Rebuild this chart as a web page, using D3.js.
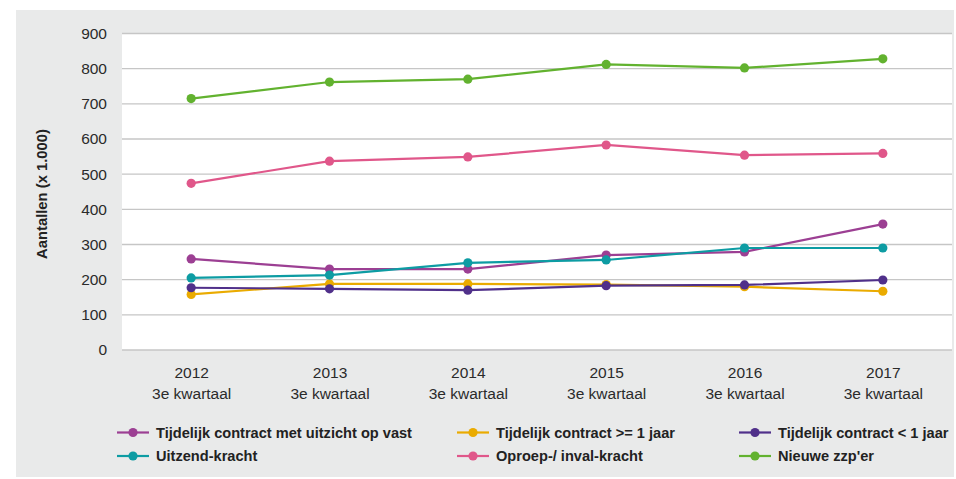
<!DOCTYPE html>
<html>
<head>
<meta charset="utf-8">
<script src="https://cdn.jsdelivr.net/npm/d3@7"></script>
<style>
  body { margin: 0; background: #fff; }
  svg { display: block; font-family: Arial, 'Liberation Sans', sans-serif; }
</style>
</head>
<body>
<svg id="chart" width="956" height="479"></svg>
<script>
// Data
const years = ['2012', '2013', '2014', '2015', '2016', '2017']
const quarterLabel = '3e kwartaal'
const yTicks = [0, 100, 200, 300, 400, 500, 600, 700, 800, 900]

const seriesNames = [
  'Tijdelijk contract met uitzicht op vast',
  'Tijdelijk contract >= 1 jaar',
  'Tijdelijk contract < 1 jaar',
  'Uitzend-kracht',
  'Oproep-/ inval-kracht',
  "Nieuwe zzp'er"
]
const metUitzicht = [259, 230, 230, 270, 279, 358]
const langerJaar = [158, 188, 188, 186, 180, 167]
const korterJaar = [177, 174, 170, 183, 185, 199]
const uitzend = [205, 213, 248, 256, 290, 290]
const oproep = [474, 537, 549, 583, 554, 559]
const zzp = [715, 762, 770, 812, 802, 828]
const seriesValues = [metUitzicht, langerJaar, korterJaar, uitzend, oproep, zzp]
const colours = ['#9c3f93', '#eaab00', '#50308a', '#0d9ca3', '#e0578a', '#62b22f']

// Layout
const svg = d3.select('#chart')
const plot = { left: 122, right: 952, top: 33.5, bottom: 350 }

svg.append('rect') // grey panel
  .attr('x', 16).attr('y', 10)
  .attr('width', 938).attr('height', 467)
  .attr('fill', '#e9eaea')

svg.append('rect') // white plot area
  .attr('x', plot.left).attr('y', plot.top)
  .attr('width', plot.right - plot.left).attr('height', plot.bottom - plot.top)
  .attr('fill', '#fff')

const x = d3.scalePoint()
  .domain(years)
  .range([plot.left, plot.right])
  .padding(0.5)

const y = d3.scaleLinear()
  .domain([0, 900])
  .range([plot.bottom, plot.top])

// Gridlines
svg.append('g')
  .selectAll('line')
  .data(yTicks)
  .join('line')
  .attr('x1', plot.left).attr('x2', plot.right)
  .attr('y1', d => y(d)).attr('y2', d => y(d))
  .attr('stroke', '#c6c6c6')
  .attr('stroke-width', 1.3)

// Y axis labels
const yAxis = svg.append('g')
  .attr('transform', `translate(${plot.left}, 0)`)
  .call(d3.axisLeft(y).tickValues(yTicks).tickSize(0).tickPadding(15))
yAxis.select('.domain').remove()
yAxis.selectAll('text')
  .attr('font-size', 15.5)
  .attr('font-family', 'Arial, "Liberation Sans", sans-serif')
  .attr('fill', '#2b2b2b')

svg.append('text')
  .attr('transform', 'translate(47, 194) rotate(-90)')
  .attr('text-anchor', 'middle')
  .attr('font-size', 14.8)
  .attr('font-weight', 'bold')
  .attr('fill', '#222')
  .text('Aantallen (x 1.000)')

// X axis labels
const xAxis = svg.append('g')
  .attr('transform', `translate(0, ${plot.bottom})`)
  .call(d3.axisBottom(x).tickSize(0).tickPadding(17))
xAxis.select('.domain').remove()
xAxis.selectAll('text')
  .attr('font-size', 15.5)
  .attr('font-family', 'Arial, "Liberation Sans", sans-serif')
  .attr('fill', '#2b2b2b')
xAxis.selectAll('.tick')
  .append('text')
  .attr('y', 49)
  .attr('text-anchor', 'middle')
  .attr('font-size', 15.5)
  .attr('font-family', 'Arial, "Liberation Sans", sans-serif')
  .attr('fill', '#2b2b2b')
  .text(quarterLabel)

// Lines and points
const line = d3.line()
  .x((d, i) => x(years[i]))
  .y(d => y(d))

seriesValues.forEach((values, s) => {
  const g = svg.append('g')
  g.append('path')
    .datum(values)
    .attr('d', line)
    .attr('fill', 'none')
    .attr('stroke', colours[s])
    .attr('stroke-width', 2.2)
  g.selectAll('circle')
    .data(values)
    .join('circle')
    .attr('cx', (d, i) => x(years[i]))
    .attr('cy', d => y(d))
    .attr('r', 4.6)
    .attr('fill', colours[s])
})

// Legend
const legendCols = [117, 457, 739]
const legendRows = [432.5, 456]
seriesNames.forEach((name, s) => {
  const lx = legendCols[s % 3]
  const ly = legendRows[Math.floor(s / 3)]
  const item = svg.append('g').attr('transform', `translate(${lx}, ${ly})`)
  item.append('line')
    .attr('x1', 0).attr('x2', 32)
    .attr('stroke', colours[s])
    .attr('stroke-width', 2.2)
  item.append('circle')
    .attr('cx', 16).attr('r', 4.6)
    .attr('fill', colours[s])
  item.append('text')
    .attr('x', 39)
    .attr('dy', '0.35em')
    .attr('font-size', 14.6)
    .attr('font-weight', 'bold')
    .attr('fill', '#222')
    .text(name)
})
</script>
</body>
</html>
